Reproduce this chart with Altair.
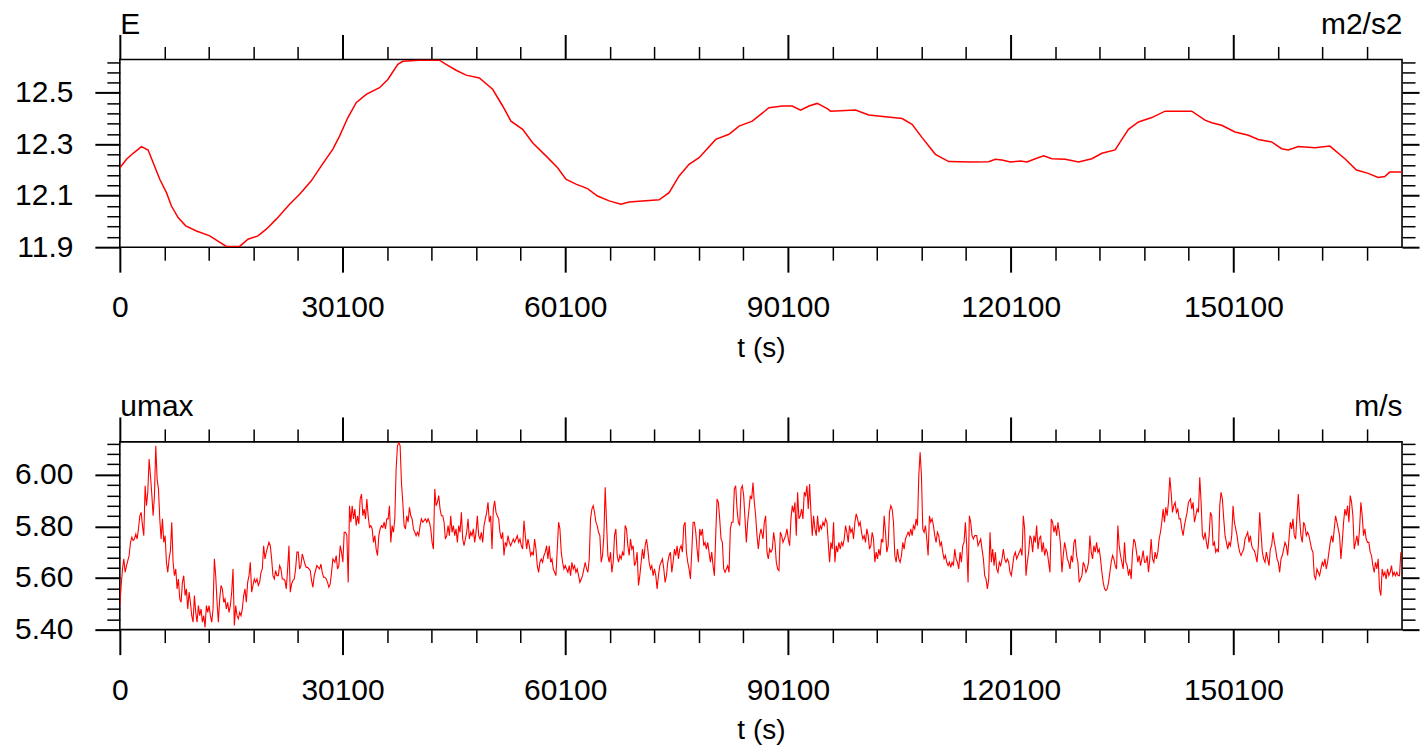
import altair as alt
import pandas as pd

# ---------------- data ----------------
E_T = [100, 1000, 1890, 3010, 3910, 4580, 5480, 6380, 7050, 7950, 8970, 10420, 12210, 14450,
       16240, 17360, 18710, 19830, 21180, 22970, 24320, 25890, 27240, 28800, 29700, 30820,
       31940, 33290, 35080, 36200, 37550, 38220, 40460, 43150, 44050, 45400, 46740, 48530,
       50320, 51670, 52790, 54360, 55700, 57500, 59070, 60190, 61540, 63100, 64450, 66020,
       67590, 68710, 70500, 72750, 74090, 75440, 76780, 78130, 80370, 82160, 83510, 85300,
       87540, 89340, 90680, 91800, 92920, 94040, 95390, 95840, 99200, 100990, 103240, 105480,
       106820, 108170, 109960, 111760, 114900, 117140, 118040, 118930, 120060, 121400, 122300,
       123420, 124540, 125660, 127450, 129250, 131040, 132390, 134180, 135080, 135970, 137320,
       139110, 140910, 144490, 146280, 147180, 148530, 150320, 152120, 153460, 155250, 156600,
       157500, 158840, 161080, 163100, 165120, 166680, 168260, 169600, 170500, 171170, 172820]
E_V = [12.209, 12.242, 12.265, 12.291, 12.278, 12.229, 12.164, 12.112, 12.060, 12.015, 11.983,
       11.963, 11.944, 11.903, 11.903, 11.931, 11.944, 11.970, 12.009, 12.067, 12.106, 12.158,
       12.216, 12.281, 12.332, 12.404, 12.462, 12.494, 12.520, 12.552, 12.611, 12.623, 12.627,
       12.627, 12.611, 12.588, 12.569, 12.558, 12.514, 12.449, 12.390, 12.358, 12.306, 12.255,
       12.209, 12.164, 12.145, 12.128, 12.099, 12.080, 12.067, 12.076, 12.080, 12.084, 12.112,
       12.177, 12.222, 12.248, 12.319, 12.339, 12.371, 12.390, 12.442, 12.449, 12.449, 12.433,
       12.449, 12.459, 12.439, 12.429, 12.433, 12.414, 12.407, 12.400, 12.378, 12.326, 12.261,
       12.233, 12.231, 12.232, 12.242, 12.239, 12.231, 12.235, 12.231, 12.244, 12.255, 12.244,
       12.242, 12.231, 12.244, 12.265, 12.278, 12.319, 12.358, 12.387, 12.404, 12.429, 12.429,
       12.394, 12.384, 12.374, 12.348, 12.335, 12.319, 12.309, 12.283, 12.278, 12.291, 12.287,
       12.293, 12.244, 12.200, 12.187, 12.171, 12.175, 12.192, 12.192]

# umax record: digitised in six stretches, each sampled every UMAX_DT seconds
UMAX_DT = 179.37
UMAX_SEG_T0 = [100, 29068, 57948, 86738, 115528, 144318]
UMAX_SEG_V = [
    [5.493, 5.571, 5.635, 5.674, 5.622, 5.648, 5.667, 5.687, 5.738, 5.758, 5.745, 5.751, 5.770,
     5.751, 5.790, 5.841, 5.854, 5.803, 5.764, 5.957, 5.880, 5.932, 6.061, 5.996, 5.925, 5.841,
     5.919, 6.112, 5.983, 5.945, 5.829, 5.751, 5.829, 5.738, 5.764, 5.661, 5.622, 5.674, 5.706,
     5.816, 5.661, 5.609, 5.635, 5.558, 5.596, 5.519, 5.506, 5.583, 5.609, 5.532, 5.558, 5.480,
     5.545, 5.506, 5.454, 5.429, 5.532, 5.467, 5.429, 5.493, 5.454, 5.480, 5.429, 5.454, 5.409,
     5.493, 5.467, 5.493, 5.454, 5.429, 5.480, 5.674, 5.609, 5.506, 5.429, 5.519, 5.571, 5.558,
     5.506, 5.519, 5.480, 5.506, 5.467, 5.493, 5.545, 5.635, 5.416, 5.493, 5.454, 5.442, 5.467,
     5.454, 5.480, 5.532, 5.558, 5.506, 5.583, 5.609, 5.661, 5.545, 5.571, 5.596, 5.583, 5.596,
     5.571, 5.583, 5.622, 5.635, 5.725, 5.674, 5.700, 5.719, 5.738, 5.725, 5.674, 5.609, 5.596,
     5.629, 5.609, 5.609, 5.648, 5.635, 5.596, 5.596, 5.590, 5.558, 5.635, 5.725, 5.545, 5.577,
     5.590, 5.596, 5.635, 5.700, 5.700, 5.635, 5.648, 5.693, 5.674, 5.654, 5.641, 5.641, 5.635,
     5.629, 5.590, 5.564, 5.609, 5.629, 5.648, 5.641, 5.635, 5.654, 5.622, 5.603, 5.603, 5.596,
     5.583, 5.564, 5.577, 5.622, 5.674],
    [5.661, 5.687, 5.635, 5.648, 5.725, 5.700, 5.661, 5.777, 5.777, 5.764, 5.583, 5.880, 5.816,
     5.880, 5.829, 5.867, 5.803, 5.841, 5.809, 5.906, 5.925, 5.841, 5.867, 5.829, 5.906, 5.841,
     5.796, 5.803, 5.790, 5.738, 5.764, 5.712, 5.687, 5.764, 5.790, 5.803, 5.796, 5.816, 5.790,
     5.829, 5.829, 5.880, 5.738, 5.803, 5.777, 5.829, 6.022, 6.112, 6.125, 6.112, 5.970, 5.893,
     5.803, 5.790, 5.841, 5.816, 5.874, 5.841, 5.829, 5.790, 5.777, 5.764, 5.777, 5.764, 5.803,
     5.829, 5.816, 5.822, 5.829, 5.816, 5.829, 5.816, 5.790, 5.738, 5.712, 5.945, 5.880, 5.893,
     5.919, 5.867, 5.841, 5.841, 5.816, 5.751, 5.764, 5.803, 5.764, 5.841, 5.777, 5.803, 5.764,
     5.790, 5.738, 5.803, 5.777, 5.854, 5.751, 5.725, 5.751, 5.777, 5.829, 5.751, 5.777, 5.764,
     5.790, 5.738, 5.777, 5.841, 5.764, 5.751, 5.777, 5.738, 5.803, 5.829, 5.854, 5.893, 5.816,
     5.841, 5.712, 5.867, 5.899, 5.854, 5.841, 5.829, 5.777, 5.751, 5.777, 5.687, 5.738, 5.725,
     5.764, 5.738, 5.725, 5.738, 5.751, 5.738, 5.751, 5.764, 5.738, 5.751, 5.725, 5.712, 5.822,
     5.764, 5.712, 5.751, 5.725, 5.687, 5.700, 5.687, 5.751, 5.712, 5.648, 5.622, 5.661, 5.674,
     5.661, 5.687, 5.700, 5.725, 5.674],
    [5.725, 5.661, 5.674, 5.635, 5.622, 5.609, 5.712, 5.816, 5.790, 5.700, 5.661, 5.635, 5.648,
     5.635, 5.622, 5.648, 5.609, 5.661, 5.635, 5.648, 5.622, 5.635, 5.609, 5.583, 5.596, 5.609,
     5.635, 5.661, 5.635, 5.622, 5.674, 5.829, 5.867, 5.880, 5.854, 5.816, 5.803, 5.777, 5.764,
     5.661, 5.687, 5.764, 5.951, 5.816, 5.687, 5.661, 5.700, 5.622, 5.661, 5.764, 5.790, 5.687,
     5.661, 5.687, 5.674, 5.700, 5.687, 5.803, 5.790, 5.725, 5.687, 5.751, 5.712, 5.725, 5.648,
     5.661, 5.700, 5.571, 5.609, 5.661, 5.712, 5.674, 5.725, 5.751, 5.712, 5.661, 5.635, 5.648,
     5.609, 5.635, 5.609, 5.558, 5.609, 5.648, 5.661, 5.674, 5.635, 5.583, 5.609, 5.661, 5.687,
     5.700, 5.622, 5.661, 5.712, 5.687, 5.725, 5.674, 5.712, 5.725, 5.700, 5.803, 5.816, 5.700,
     5.661, 5.635, 5.596, 5.700, 5.816, 5.816, 5.777, 5.712, 5.661, 5.790, 5.764, 5.790, 5.725,
     5.738, 5.712, 5.738, 5.700, 5.661, 5.700, 5.648, 5.609, 5.764, 5.906, 5.893, 5.829, 5.751,
     5.738, 5.635, 5.622, 5.635, 5.648, 5.622, 5.790, 5.816, 5.816, 5.945, 5.957, 5.867, 5.816,
     5.803, 5.945, 5.957, 5.919, 5.829, 5.738, 5.816, 5.867, 5.919, 5.906, 5.970, 5.893, 5.841,
     5.764, 5.712, 5.764, 5.790],
    [5.751, 5.816, 5.841, 5.700, 5.674, 5.712, 5.700, 5.712, 5.777, 5.738, 5.661, 5.635, 5.629,
     5.777, 5.764, 5.738, 5.751, 5.764, 5.790, 5.751, 5.725, 5.829, 5.880, 5.854, 5.893, 5.764,
     5.932, 5.829, 5.841, 5.867, 5.829, 5.932, 5.919, 5.957, 5.867, 5.964, 5.854, 5.764, 5.841,
     5.790, 5.764, 5.841, 5.777, 5.803, 5.790, 5.816, 5.803, 5.829, 5.816, 5.738, 5.661, 5.738,
     5.712, 5.816, 5.661, 5.725, 5.700, 5.738, 5.712, 5.738, 5.725, 5.751, 5.803, 5.777, 5.738,
     5.803, 5.777, 5.790, 5.751, 5.816, 5.848, 5.829, 5.803, 5.816, 5.777, 5.751, 5.764, 5.738,
     5.790, 5.764, 5.712, 5.725, 5.777, 5.751, 5.661, 5.700, 5.674, 5.712, 5.687, 5.751, 5.738,
     5.841, 5.777, 5.700, 5.725, 5.854, 5.880, 5.867, 5.816, 5.687, 5.661, 5.712, 5.674, 5.661,
     5.687, 5.738, 5.712, 5.751, 5.764, 5.777, 5.764, 5.790, 5.764, 5.803, 5.790, 5.829, 5.803,
     5.996, 6.087, 5.996, 5.790, 5.777, 5.803, 5.751, 5.687, 5.841, 5.816, 5.829, 5.803, 5.764,
     5.738, 5.777, 5.764, 5.725, 5.738, 5.700, 5.674, 5.687, 5.661, 5.648, 5.661, 5.641, 5.661,
     5.648, 5.712, 5.674, 5.661, 5.635, 5.700, 5.661, 5.725, 5.738, 5.816, 5.725, 5.583, 5.841,
     5.816, 5.764, 5.751, 5.764],
    [5.764, 5.725, 5.738, 5.751, 5.712, 5.674, 5.609, 5.596, 5.558, 5.596, 5.777, 5.661, 5.712,
     5.648, 5.700, 5.635, 5.622, 5.661, 5.648, 5.674, 5.712, 5.674, 5.661, 5.674, 5.661, 5.622,
     5.609, 5.648, 5.687, 5.700, 5.674, 5.687, 5.700, 5.712, 5.687, 5.841, 5.790, 5.609, 5.661,
     5.700, 5.764, 5.751, 5.700, 5.764, 5.738, 5.803, 5.712, 5.751, 5.764, 5.700, 5.738, 5.687,
     5.712, 5.700, 5.661, 5.622, 5.829, 5.816, 5.777, 5.803, 5.764, 5.816, 5.777, 5.725, 5.622,
     5.687, 5.738, 5.712, 5.674, 5.661, 5.635, 5.687, 5.661, 5.738, 5.751, 5.687, 5.661, 5.583,
     5.596, 5.609, 5.661, 5.648, 5.622, 5.635, 5.661, 5.764, 5.700, 5.674, 5.725, 5.700, 5.738,
     5.700, 5.712, 5.674, 5.622, 5.583, 5.558, 5.551, 5.558, 5.583, 5.622, 5.661, 5.687, 5.674,
     5.648, 5.635, 5.803, 5.725, 5.687, 5.661, 5.635, 5.738, 5.661, 5.648, 5.609, 5.635, 5.596,
     5.700, 5.751, 5.738, 5.700, 5.661, 5.687, 5.648, 5.674, 5.706, 5.661, 5.661, 5.687, 5.622,
     5.674, 5.751, 5.674, 5.661, 5.700, 5.674, 5.700, 5.751, 5.777, 5.816, 5.867, 5.816, 5.874,
     5.841, 5.893, 5.990, 5.932, 5.854, 5.880, 5.893, 5.854, 5.867, 5.829, 5.829, 5.790, 5.764,
     5.803, 5.829, 5.854, 5.893],
    [5.906, 5.867, 5.893, 5.816, 5.841, 5.867, 5.854, 5.990, 5.893, 5.764, 5.751, 5.777, 5.738,
     5.712, 5.764, 5.854, 5.841, 5.725, 5.738, 5.700, 5.712, 5.700, 5.880, 5.932, 5.906, 5.829,
     5.764, 5.738, 5.712, 5.738, 5.725, 5.764, 5.880, 5.816, 5.790, 5.764, 5.725, 5.700, 5.687,
     5.700, 5.712, 5.751, 5.764, 5.777, 5.738, 5.764, 5.725, 5.712, 5.706, 5.687, 5.661, 5.725,
     5.854, 5.777, 5.700, 5.674, 5.661, 5.700, 5.674, 5.648, 5.712, 5.725, 5.777, 5.738, 5.712,
     5.674, 5.661, 5.622, 5.674, 5.687, 5.712, 5.738, 5.725, 5.687, 5.751, 5.816, 5.790, 5.829,
     5.764, 5.751, 5.841, 5.925, 5.829, 5.764, 5.738, 5.816, 5.803, 5.764, 5.777, 5.764, 5.738,
     5.712, 5.700, 5.609, 5.596, 5.635, 5.622, 5.609, 5.635, 5.661, 5.648, 5.674, 5.635, 5.661,
     5.700, 5.738, 5.764, 5.738, 5.790, 5.841, 5.816, 5.790, 5.764, 5.674, 5.738, 5.816, 5.867,
     5.841, 5.880, 5.816, 5.919, 5.893, 5.841, 5.712, 5.738, 5.764, 5.725, 5.790, 5.893, 5.841,
     5.764, 5.790, 5.751, 5.738, 5.738, 5.700, 5.687, 5.648, 5.622, 5.661, 5.635, 5.674, 5.558,
     5.532, 5.635, 5.609, 5.622, 5.596, 5.635, 5.609, 5.622, 5.648, 5.609, 5.622, 5.609, 5.622,
     5.609, 5.609, 5.700],
]

# axes: tick values and labels
X_DOMAIN = [100, 172820]
X_MAJOR = [100, 30100, 60100, 90100, 120100, 150100]
X_LABELS = ["0", "30100", "60100", "90100", "120100", "150100"]
X_MINOR_STEP = 6000

E_DOMAIN = [11.9, 12.63]
E_MAJOR = [11.9, 12.1, 12.3, 12.5]
E_LABELS = ["11.9", "12.1", "12.3", "12.5"]

U_DOMAIN = [5.40, 6.127]
U_MAJOR = [5.4, 5.6, 5.8, 6.0]
U_LABELS = ["5.40", "5.60", "5.80", "6.00"]

Y_MINOR_STEP = 0.04

# ---------------- build tables ----------------
e_df = pd.DataFrame({"t": E_T, "v": E_V})
u_t, u_v = [], []
for t0, vals in zip(UMAX_SEG_T0, UMAX_SEG_V):
    for i, v in enumerate(vals):
        u_t.append(round(t0 + UMAX_DT * i))
        u_v.append(v)
u_df = pd.DataFrame({"t": u_t, "v": u_v})

x_ticks = list(range(X_DOMAIN[0], X_DOMAIN[1], X_MINOR_STEP))


def y_ticks(domain):
    out, k = [], 0
    while domain[0] + Y_MINOR_STEP * k <= domain[1] + 1e-9:
        out.append(round(domain[0] + Y_MINOR_STEP * k, 2))
        k += 1
    return out


def is_major(major):
    return f"indexof({list(major)}, datum.value) >= 0"


def label_expr(major, labels):
    parts = [f"datum.value == {m} ? '{l}'" for m, l in zip(major, labels)]
    return " : ".join(parts) + " : ''"


FONT = "Liberation Sans"
LABEL_SIZE = 30
TITLE_SIZE = 30


def tick_props(major, big, small):
    test = is_major(major)
    return dict(
        tickSize={"condition": {"test": test, "value": big}, "value": small},
        tickWidth={"condition": {"test": test, "value": 2}, "value": 1.5},
        tickColor="black",
    )


def panel(df, y_domain, y_major, y_labels, left_title, right_title, stroke_w):
    yt = y_ticks(y_domain)
    common_axis = dict(domain=False, grid=False, labelFont=FONT, labelFontSize=LABEL_SIZE,
                       labelColor="black", titleFont=FONT, titleFontSize=TITLE_SIZE,
                       titleFontWeight="normal", titleColor="black",
                       labelOverlap=False, labelFlush=False)
    x_bottom_axis = dict(common_axis, titleFontSize=28)
    x_bottom = alt.Axis(orient="bottom", values=x_ticks,
                        labelExpr=label_expr(X_MAJOR, X_LABELS),
                        labelPadding=20.5, title="t (s)", titlePadding=12,
                        **tick_props(X_MAJOR, 25, 13), **x_bottom_axis)
    y_left = alt.Axis(orient="left", values=yt, labelExpr=label_expr(y_major, y_labels),
                      labelPadding=22, title=left_title, titleAngle=0, titleX=0, titleY=-26,
                      titleAlign="left", titleBaseline="alphabetic",
                      **tick_props(y_major, 25, 13), **common_axis)
    x_top = alt.Axis(orient="top", values=x_ticks, labels=False, title=None,
                     **tick_props(X_MAJOR, 25, 13), **common_axis)
    y_right = alt.Axis(orient="right", values=yt, labels=False, title=right_title,
                       titleAngle=0, titleX=0, titleY=-26, titleAlign="right",
                       titleBaseline="alphabetic",
                       **tick_props(y_major, 17, 13), **common_axis)

    xs = alt.Scale(domain=X_DOMAIN, nice=False, zero=False)
    ys = alt.Scale(domain=y_domain, nice=False, zero=False)

    line = alt.Chart(df).mark_line(color="#ff0000", strokeWidth=stroke_w, clip=True).encode(
        x=alt.X("t:Q", scale=xs, axis=x_bottom),
        y=alt.Y("v:Q", scale=ys, axis=y_left),
    )
    ghost = alt.Chart(df).mark_line(strokeOpacity=0, clip=True).encode(
        x=alt.X("t:Q", scale=xs, axis=x_top),
        y=alt.Y("v:Q", scale=ys, axis=y_right),
    )
    return alt.layer(line, ghost).resolve_scale(x="independent", y="independent").properties(
        width=1284, height=188)


top = panel(e_df, E_DOMAIN, E_MAJOR, E_LABELS, "E", "m2/s2", 1.5)
bottom = panel(u_df, U_DOMAIN, U_MAJOR, U_LABELS, "umax", "m/s", 1.1)

chart = alt.vconcat(top, bottom, spacing=27).properties(
    padding={"left": 13, "top": 8, "right": 0, "bottom": 0},
    background="white",
).configure_view(stroke="black", strokeWidth=1.6)

chart.save("out.html", embed_options={"renderer": "svg", "actions": False})
